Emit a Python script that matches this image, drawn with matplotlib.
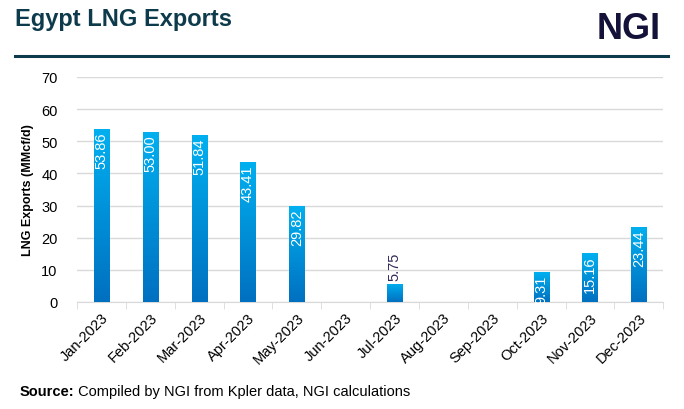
import matplotlib.pyplot as plt
import numpy as np
from matplotlib.colors import LinearSegmentedColormap

plt.rcParams['font.family'] = ['Liberation Sans', 'DejaVu Sans']

# Data
months = ['Jan-2023', 'Feb-2023', 'Mar-2023', 'Apr-2023', 'May-2023', 'Jun-2023',
          'Jul-2023', 'Aug-2023', 'Sep-2023', 'Oct-2023', 'Nov-2023', 'Dec-2023']
exports = [53.86, 53.00, 51.84, 43.41, 29.82, 0, 5.75, 0, 0, 9.31, 15.16, 23.44]

fig = plt.figure(figsize=(6.84, 4.10), dpi=100)
ax = fig.add_axes([0.1126, 0.261, 0.857, 0.549])

x = np.arange(len(months))
width = 0.31
grad = LinearSegmentedColormap.from_list('blues', ['#0070c0', '#00b0f0'])
gradient = np.linspace(0, 1, 256).reshape(-1, 1)

# gradient-filled bars (image clipped to each bar)
bars = ax.bar(x, exports, width=width, color='none', zorder=3)
for rect, v in zip(bars, exports):
    if v <= 0:
        continue
    x0 = rect.get_x()
    im = ax.imshow(gradient, cmap=grad, origin='lower', aspect='auto',
                   extent=[x0, x0 + rect.get_width(), 0, v], zorder=3)
    im.set_clip_path(rect)
    cx = x0 + rect.get_width() / 2
    if v > 8:
        ax.text(cx, v - 0.8, f'{v:.2f}', rotation=90, ha='center', va='top',
                color='white', fontsize=10.5, zorder=4)
    else:
        ax.text(cx, v + 1.2, f'{v:.2f}', rotation=90, ha='center', va='bottom',
                color='#2e2a5a', fontsize=10.5, zorder=4)

ax.set_xlim(-0.5, len(months) - 0.5)
ax.set_ylim(0, 70)
ax.set_yticks(range(0, 71, 10))
ax.yaxis.grid(True, color='#d9d9d9', linewidth=1, zorder=0)
ax.set_axisbelow(True)

ax.set_xticks(x)
ax.set_xticklabels(months, rotation=45, ha='right', rotation_mode='anchor', fontsize=10.5)
ax.set_xticks(np.arange(-0.5, len(months)), minor=True)
ax.tick_params(axis='x', which='major', length=0, pad=6)
ax.tick_params(axis='x', which='minor', length=5, color='#d9d9d9')
ax.tick_params(axis='y', length=0, labelsize=10.5, pad=14)

for s in ['top', 'right', 'left']:
    ax.spines[s].set_visible(False)
ax.spines['bottom'].set_color('#d9d9d9')

ax.set_ylabel('LNG Exports (MMcf/d)', fontsize=9, fontweight='bold', labelpad=5)

# Header
fig.text(0.022, 0.952, 'Egypt LNG Exports', fontsize=17, fontweight='bold',
         color='#0d3b4c', va='center')
fig.text(0.966, 0.928, 'NGI', fontsize=26, fontweight='bold', color='#15123a',
         va='center', ha='right')
fig.add_artist(plt.Line2D([0.022, 0.977], [0.862, 0.862], color='#0d3b4c', linewidth=2.2))

# Source note: bold prefix, regular text after it
src = fig.text(0.028, 0.035, 'Source:', fontsize=10.5, fontweight='bold', va='baseline')
fig.canvas.draw()
bb = src.get_window_extent().transformed(fig.transFigure.inverted())
fig.text(bb.x1, 0.035, ' Compiled by NGI from Kpler data, NGI calculations',
         fontsize=10.5, va='baseline')

fig.savefig('out.png', dpi=100)
